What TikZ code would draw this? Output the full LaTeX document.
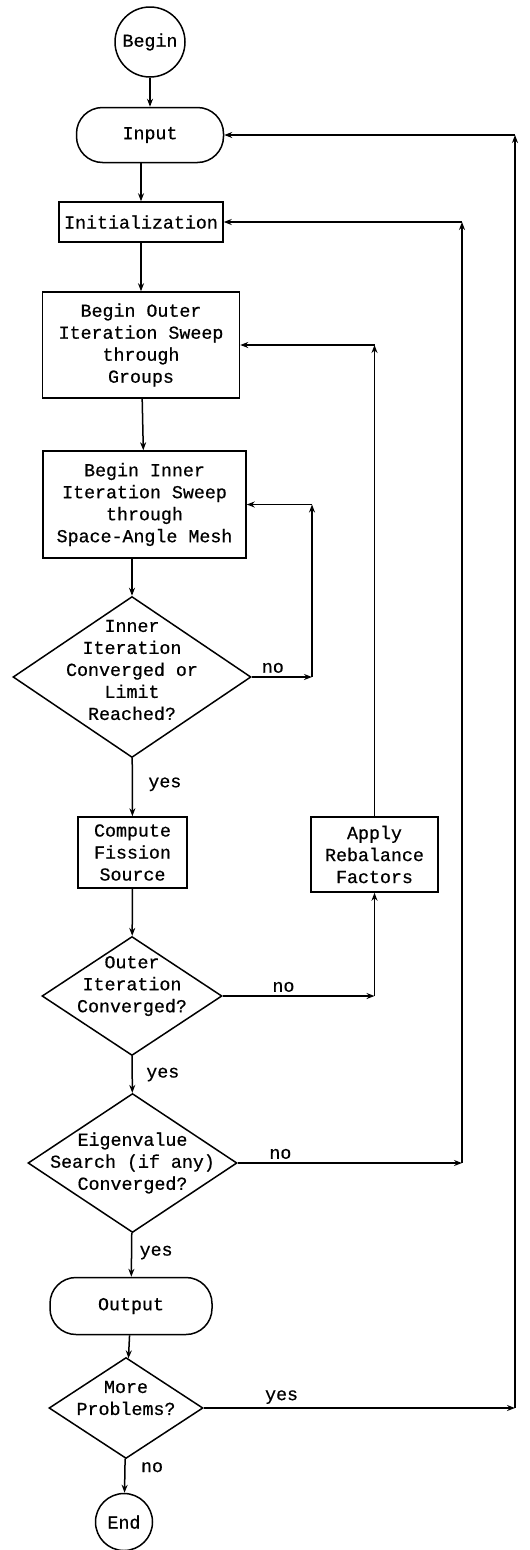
\documentclass[tikz,border=0pt]{standalone}
\usepackage{fontspec}
\setmainfont{Liberation Mono}[FakeBold=0.6]
\usetikzlibrary{shapes.geometric,arrows.meta}
\tikzset{
    flow-box/.style = {draw, rectangle, align=center, inner sep=3pt},
    flow-end/.style = {draw, rectangle, rounded corners=26pt, align=center, inner sep=3pt},
    flow-circle/.style = {draw, circle, inner sep=0pt},
    flow-test/.style = {draw, diamond, inner sep=0pt},
    flow-test-text/.style = {align=center},
    flow-arrow/.style = {-{Stealth[length=8pt,width=6pt]}},
}

\begin{document}
\begin{tikzpicture}[x=1pt, y=-1pt, line width=1.5pt, font=\fontsize{18.3}{22}\selectfont]
\useasboundingbox (0,0) rectangle (530,1550);
\node[flow-circle, minimum size=70pt] (begin) at (150,42) {Begin};
\node[flow-end, minimum width=147pt, minimum height=55pt] (input) at (150,135) {Input};
\node[flow-box, minimum width=164pt, minimum height=40pt] (init) at (141,222) {Initialization};
\node[flow-box, minimum width=197pt, minimum height=106pt] (outer) at (141,345) {Begin Outer\\Iteration Sweep\\through\\Groups};
\node[flow-box, minimum width=203pt, minimum height=107pt] (inner) at (144.5,504.5) {Begin Inner\\Iteration Sweep\\through\\Space-Angle Mesh};
\node[flow-test, minimum width=238pt, minimum height=161pt,
      label={[flow-test-text, yshift=7pt]center:{Inner\\Iteration\\Converged or\\Limit\\Reached?}}] (inner-test) at (132,677) {};
\node[flow-box, minimum width=109pt, minimum height=71pt] (fission) at (132.5,852.5) {Compute\\Fission\\Source};
\node[flow-box, minimum width=127pt, minimum height=75pt] (rebalance) at (374.5,854.5) {Apply\\Rebalance\\Factors};
\node[flow-test, minimum width=180pt, minimum height=119pt,
      label={[flow-test-text, yshift=10pt]center:{Outer\\Iteration\\Converged?}}] (outer-test) at (132,996) {};
\node[flow-test, minimum width=209pt, minimum height=139pt,
      label={[flow-test-text]center:{Eigenvalue\\Search (if any)\\Converged?}}] (eigen-test) at (132.5,1163) {};
\node[flow-end, minimum width=162pt, minimum height=57pt] (output) at (131,1306) {Output};
\node[flow-test, minimum width=154pt, minimum height=101pt,
      label={[flow-test-text, yshift=10pt]center:{More\\Problems?}}] (more-test) at (126,1408) {};
\node[flow-circle, minimum size=57pt] (finish) at (124,1522) {End};

\coordinate (inner-turn) at (312,677);
\coordinate (outer-turn) at (374.5,996);
\coordinate (eigen-turn) at (462,1163);
\coordinate (more-turn) at (515,1408);

\draw[flow-arrow] (begin) -- (input);
\draw[flow-arrow] (input.south -| init) -- (init);
\draw[flow-arrow] (init) -- (outer);
\draw[flow-arrow] (outer) -- (inner);
\draw[flow-arrow] (inner.south -| inner-test) -- (inner-test);
\draw[flow-arrow] (inner-test) -- node[pos=0.45, right=12pt] {yes} (fission);
\draw[flow-arrow] (fission) -- (outer-test);
\draw[flow-arrow] (outer-test) -- node[pos=0.5, right=10pt] {yes} (eigen-test);
\draw[flow-arrow] (eigen-test) -- node[pos=0.45, right=4pt] {yes} (output);
\draw[flow-arrow] (output) -- (more-test);
\draw[flow-arrow] (more-test) -- node[pos=0.25, right=12pt] {no} (finish);

\draw[flow-arrow] (inner-test) -- node[pos=0.35, above] {no} (inner-turn);
\draw[flow-arrow] (inner-turn) -- (inner-turn |- inner.east);
\draw[flow-arrow] (inner-turn |- inner.east) -- (inner.east);

\draw[flow-arrow] (outer-test) -- node[pos=0.4, above] {no} (outer-turn);
\draw[flow-arrow] (outer-turn) -- (rebalance);
\draw[flow-arrow] (rebalance) -- (rebalance |- outer.east);
\draw[flow-arrow] (rebalance |- outer.east) -- (outer.east);

\draw[flow-arrow] (eigen-test) -- node[pos=0.19, above] {no} (eigen-turn);
\draw[flow-arrow] (eigen-turn) -- (eigen-turn |- init.east);
\draw[flow-arrow] (eigen-turn |- init.east) -- (init.east);

\draw[flow-arrow] (more-test) -- node[pos=0.25, above] {yes} (more-turn);
\draw[flow-arrow] (more-turn) -- (more-turn |- input.east);
\draw[flow-arrow] (more-turn |- input.east) -- (input.east);
\end{tikzpicture}
\end{document}
